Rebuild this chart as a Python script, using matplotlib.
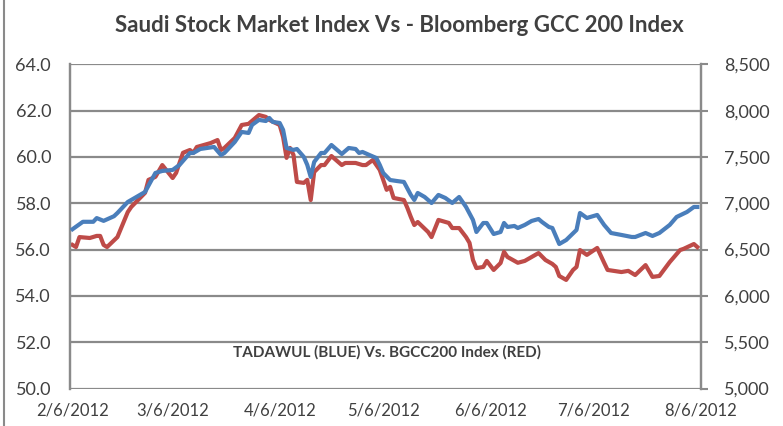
import matplotlib
matplotlib.use("Agg")
import matplotlib.pyplot as plt
import matplotlib.dates as mdates
from matplotlib.lines import Line2D
import numpy as np
import pandas as pd

plt.rcParams["font.family"] = ["Lato", "DejaVu Sans"]

# TADAWUL (blue, right axis)
tadawul_dates = [
    "2012-02-06", "2012-02-09", "2012-02-12", "2012-02-13", "2012-02-15", "2012-02-18",
    "2012-02-19", "2012-02-22", "2012-02-24", "2012-02-27", "2012-03-01", "2012-03-03",
    "2012-03-06", "2012-03-08", "2012-03-11", "2012-03-12", "2012-03-14", "2012-03-18",
    "2012-03-20", "2012-03-21", "2012-03-24", "2012-03-26", "2012-03-28", "2012-03-29",
    "2012-03-31", "2012-04-02", "2012-04-03", "2012-04-04", "2012-04-06", "2012-04-07",
    "2012-04-08", "2012-04-10", "2012-04-11", "2012-04-13", "2012-04-14", "2012-04-15",
    "2012-04-16", "2012-04-18", "2012-04-19", "2012-04-21", "2012-04-24", "2012-04-26",
    "2012-04-28", "2012-04-29", "2012-04-30", "2012-05-02", "2012-05-04", "2012-05-05",
    "2012-05-06", "2012-05-08", "2012-05-10", "2012-05-12", "2012-05-14", "2012-05-15",
    "2012-05-16", "2012-05-18", "2012-05-20", "2012-05-22", "2012-05-24", "2012-05-26",
    "2012-05-28", "2012-05-30", "2012-06-01", "2012-06-02", "2012-06-04", "2012-06-05",
    "2012-06-07", "2012-06-09", "2012-06-10", "2012-06-11", "2012-06-13", "2012-06-14",
    "2012-06-16", "2012-06-18", "2012-06-20", "2012-06-21", "2012-06-23", "2012-06-24",
    "2012-06-26", "2012-06-28", "2012-07-01", "2012-07-02", "2012-07-04", "2012-07-07",
    "2012-07-09", "2012-07-11", "2012-07-14", "2012-07-17", "2012-07-18", "2012-07-21",
    "2012-07-23", "2012-07-25", "2012-07-28", "2012-07-30", "2012-08-02", "2012-08-04",
    "2012-08-05",
]
tadawul_values = [
    6720, 6800, 6800, 6840, 6810, 6860,
    6895, 7014, 7057, 7122, 7327, 7349,
    7360, 7414, 7543, 7543, 7586, 7608,
    7521, 7543, 7662, 7770, 7759, 7846,
    7900, 7888, 7921, 7878, 7867, 7792,
    7597, 7576, 7586, 7500, 7414, 7284,
    7446, 7543, 7543, 7629, 7532, 7597,
    7586, 7543, 7554, 7521, 7489, 7414,
    7327, 7251, 7240, 7230, 7090, 7036,
    7111, 7068, 7003, 7090, 7057, 7003,
    7068, 6960, 6820, 6690, 6787, 6787,
    6668, 6690, 6787, 6744, 6755, 6733,
    6766, 6809, 6830, 6798, 6744, 6733,
    6560, 6603, 6712, 6895, 6841, 6874,
    6766, 6679, 6658, 6636, 6636, 6679,
    6647, 6679, 6766, 6852, 6906, 6960,
    6960,
]

# BGCC200 (red, left axis)
bgcc_dates = [
    "2012-02-06", "2012-02-07", "2012-02-08", "2012-02-11", "2012-02-13", "2012-02-14",
    "2012-02-15", "2012-02-16", "2012-02-19", "2012-02-22", "2012-02-23", "2012-02-27",
    "2012-02-28", "2012-03-01", "2012-03-03", "2012-03-06", "2012-03-07", "2012-03-09",
    "2012-03-11", "2012-03-12", "2012-03-13", "2012-03-17", "2012-03-19", "2012-03-20",
    "2012-03-21", "2012-03-24", "2012-03-26", "2012-03-28", "2012-03-31", "2012-04-02",
    "2012-04-03", "2012-04-06", "2012-04-07", "2012-04-08", "2012-04-09", "2012-04-10",
    "2012-04-11", "2012-04-13", "2012-04-14", "2012-04-15", "2012-04-16", "2012-04-18",
    "2012-04-19", "2012-04-21", "2012-04-24", "2012-04-25", "2012-04-28", "2012-04-30",
    "2012-05-01", "2012-05-03", "2012-05-05", "2012-05-06", "2012-05-07", "2012-05-08",
    "2012-05-09", "2012-05-12", "2012-05-13", "2012-05-14", "2012-05-15", "2012-05-16",
    "2012-05-19", "2012-05-20", "2012-05-22", "2012-05-25", "2012-05-26", "2012-05-28",
    "2012-05-30", "2012-05-31", "2012-06-01", "2012-06-02", "2012-06-04", "2012-06-05",
    "2012-06-07", "2012-06-09", "2012-06-10", "2012-06-11", "2012-06-14", "2012-06-16",
    "2012-06-18", "2012-06-20", "2012-06-22", "2012-06-24", "2012-06-25", "2012-06-26",
    "2012-06-28", "2012-06-30", "2012-07-01", "2012-07-02", "2012-07-04", "2012-07-07",
    "2012-07-09", "2012-07-10", "2012-07-14", "2012-07-16", "2012-07-18", "2012-07-21",
    "2012-07-23", "2012-07-25", "2012-07-28", "2012-07-31", "2012-08-01", "2012-08-04",
    "2012-08-05",
]
bgcc_values = [
    56.20, 56.11, 56.54, 56.50, 56.59, 56.59,
    56.20, 56.11, 56.54, 57.62, 57.84, 58.45,
    59.01, 59.14, 59.65, 59.09, 59.31, 60.18,
    60.30, 60.18, 60.43, 60.60, 60.73, 60.30,
    60.39, 60.82, 61.38, 61.43, 61.81, 61.73,
    61.60, 61.38, 60.86, 59.96, 60.39, 60.09,
    58.92, 58.88, 59.01, 58.14, 59.35, 59.65,
    59.65, 60.04, 59.65, 59.74, 59.74, 59.65,
    59.65, 59.87, 59.44, 59.01, 58.58, 58.71,
    58.23, 58.14, 57.80, 57.41, 57.06, 57.19,
    56.76, 56.54, 57.28, 57.15, 56.93, 56.93,
    56.54, 56.29, 55.55, 55.20, 55.25, 55.51,
    55.12, 55.42, 55.90, 55.68, 55.43, 55.51,
    55.68, 55.85, 55.55, 55.38, 55.25, 54.86,
    54.69, 55.12, 55.25, 55.98, 55.77, 56.07,
    55.43, 55.12, 55.03, 55.08, 54.90, 55.33,
    54.82, 54.86, 55.46, 55.98, 56.03, 56.24,
    56.11,
]

tick_dates = ["2012-02-06", "2012-03-06", "2012-04-06", "2012-05-06",
              "2012-06-06", "2012-07-06", "2012-08-06"]
tick_labels = ["2/6/2012", "3/6/2012", "4/6/2012", "5/6/2012",
               "6/6/2012", "7/6/2012", "8/6/2012"]

left_ticks = np.arange(50, 64.1, 2)
right_ticks = np.arange(5000, 8501, 500)

BLUE = "#4a7ebb"
RED = "#be4b48"
GRID = "#8a8a8a"
TEXT = "#404040"

fig = plt.figure(figsize=(7.83, 4.26), dpi=100)
ax = fig.add_axes([0.090, 0.088, 0.805, 0.761])
ax2 = ax.twinx()

ax.plot(pd.to_datetime(bgcc_dates), bgcc_values, color=RED, lw=3,
        solid_joinstyle="round", zorder=3)
ax2.plot(pd.to_datetime(tadawul_dates), tadawul_values, color=BLUE, lw=3,
         solid_joinstyle="round", zorder=3)

x0 = mdates.date2num(pd.Timestamp("2012-02-06")) - 0.6
x1 = mdates.date2num(pd.Timestamp("2012-08-06"))
ax.set_xlim(x0, x1)
ax.set_ylim(50, 64)
ax2.set_ylim(5000, 8500)

ax.set_xticks(pd.to_datetime(tick_dates))
ax.set_xticklabels(tick_labels, color=TEXT, fontsize=12)
ax.set_yticks(left_ticks)
ax.set_yticklabels([f"{v:.1f}" for v in left_ticks], color=TEXT, fontsize=13)
ax2.set_yticks(right_ticks)
ax2.set_yticklabels([f"{v:,}" for v in right_ticks], color=TEXT, fontsize=13)

ax.tick_params(axis="x", length=0, pad=10)
ax.tick_params(axis="y", length=0, pad=14)
ax2.tick_params(axis="y", length=5, width=1.5, color=GRID, pad=12)

ax.grid(axis="y", color=GRID, lw=1.6)
ax.set_axisbelow(True)
for a in (ax, ax2):
    for side in ("top", "bottom"):
        a.spines[side].set_visible(False)
    a.spines["left"].set_color(GRID)
    a.spines["left"].set_linewidth(1.6)
    a.spines["right"].set_color(GRID)
    a.spines["right"].set_linewidth(1.6)

fig.text(0.51, 0.94, "Saudi Stock Market Index Vs - Bloomberg GCC 200 Index",
         ha="center", va="center", fontsize=16, fontweight="bold", color=TEXT)
fig.text(0.494, 0.174, "TADAWUL (BLUE) Vs. BGCC200 Index (RED)",
         ha="center", va="center", fontsize=11, fontweight="bold", color=TEXT)

# chart frame edge visible on the left
fig.add_artist(Line2D([0.005, 0.005], [0, 1], transform=fig.transFigure,
                      color=GRID, lw=1.5))

fig.savefig("out.png", dpi=100)
